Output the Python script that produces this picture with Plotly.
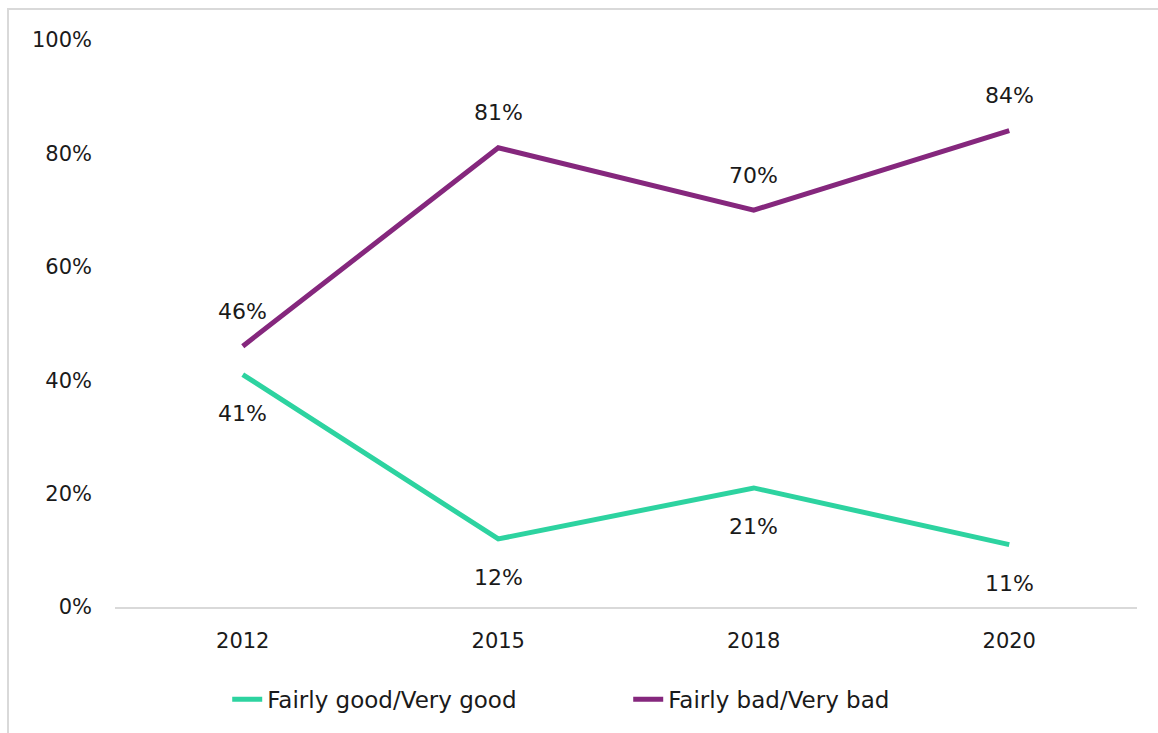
import plotly.graph_objects as go

years = ["2012", "2015", "2018", "2020"]
good = [41, 12, 21, 11]
bad = [46, 81, 70, 84]
y_ticks = [0, 20, 40, 60, 80, 100]
y_tick_text = ["0%", "20%", "40%", "60%", "80%", "100%"]

GREEN = "#2dd3a0"
PURPLE = "#85277d"
FONT = "DejaVu Sans, sans-serif"
TEXT = "#1a1a1a"

fig = go.Figure()
fig.add_trace(go.Scatter(x=years, y=good, mode="lines", name="Fairly good/Very good",
                         line=dict(color=GREEN, width=5)))
fig.add_trace(go.Scatter(x=years, y=bad, mode="lines", name="Fairly bad/Very bad",
                         line=dict(color=PURPLE, width=5)))

# value labels: purple series above its points, green series below
for i, yv in enumerate(bad):
    fig.add_annotation(x=i, y=yv, xref="x", yref="y", text=f"{yv}%", showarrow=False,
                       yshift=35, font=dict(size=22, color=TEXT, family=FONT))
for i, yv in enumerate(good):
    fig.add_annotation(x=i, y=yv, xref="x", yref="y", text=f"{yv}%", showarrow=False,
                       yshift=-39, font=dict(size=22, color=TEXT, family=FONT))

# outer chart frame
fig.add_shape(type="rect", xref="paper", yref="paper", x0=-0.1047, x1=1.2, y0=-0.3, y1=1.0547,
              line=dict(color="#d9d9d9", width=2), fillcolor="rgba(0,0,0,0)", layer="below")

fig.update_layout(
    width=1158, height=733,
    margin=dict(l=115, r=21, t=40, b=126),
    paper_bgcolor="white", plot_bgcolor="white",
    font=dict(family=FONT, size=21, color=TEXT),
    showlegend=True,
    legend=dict(orientation="h", x=0.1098, xanchor="left", y=-0.125, yanchor="top",
                font=dict(size=23), entrywidth=356, entrywidthmode="pixels"),
    xaxis=dict(type="category", showgrid=False, showline=True, linecolor="#d9d9d9", linewidth=2,
               ticks="", ticklabelstandoff=14, range=[-0.5, 3.5]),
    yaxis=dict(range=[0, 100], tickvals=y_ticks, ticktext=y_tick_text, showgrid=False,
               zeroline=False, showline=False, ticks="", ticklabelstandoff=22),
)

fig.write_html("out.html")
